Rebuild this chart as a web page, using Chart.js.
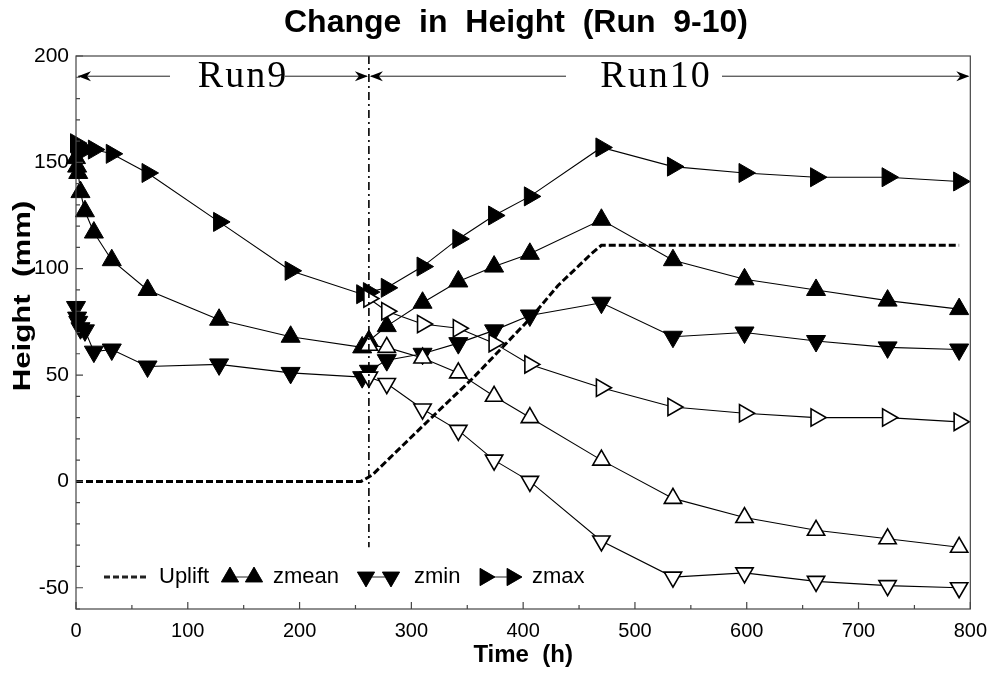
<!DOCTYPE html>
<html>
<head>
<meta charset="utf-8">
<script src="https://cdn.jsdelivr.net/npm/chart.js@4.4.1/dist/chart.umd.min.js"></script>
<style>
  html, body { margin: 0; padding: 0; background: #fff; }
  #wrap { width: 997px; height: 675px; }
</style>
</head>
<body>
<div id="wrap"><canvas id="heightChart" width="997" height="675"></canvas></div>
<script>
// time (h) of each measurement
const runSplit = 262;
const times9 = [0, 1, 2, 4, 8, 16, 32, 64, 128, 192, 256];
const times10 = [262, 278, 310, 342, 374, 406, 470, 534, 598, 662, 726, 790];

// heights (mm), filled symbols
const zmean9 = [152, 148, 145, 136, 127, 117, 104, 90, 76, 68, 63];
const zmean10 = [66, 73, 84, 94, 101, 107, 123, 104, 95, 90, 85, 81];
const zmin9 = [82, 77, 75, 72, 71, 61, 62, 54, 55, 51, 49];
const zmin10 = [52, 57, 60, 65, 71, 78, 84, 68, 70, 66, 63, 62];
const zmax9 = [159, 157, 157, 156, 156, 156, 154, 145, 122, 99, 88];
const zmax10 = [89, 91, 101, 114, 125, 134, 157, 148, 145, 143, 143, 141];

// open symbols (run 10 only)
const openMean10 = [64, 63, 58, 51, 40, 30, 10, -8, -17, -23, -27, -31];
const openMin10 = [49, 46, 34, 24, 10, 0, -28, -45, -43, -47, -49, -50];
const openMax10 = [86, 80, 74, 72, 65, 55, 44, 35, 32, 30, 30, 28];

// uplift curve
const upliftT = [0, 255, 265, 318, 354, 407, 431, 461, 470, 790];
const upliftH = [0, 0, 3, 30, 48, 77, 92, 107, 111, 111];

const xTicks = [0, 100, 200, 300, 400, 500, 600, 700, 800];
const yTicks = [-50, 0, 50, 100, 150, 200];

function pts(t, v) {
    return v.map((y, i) => ({ x: t[i], y: y }));
}

const allTimes = times9.concat(times10);

function series(label, values, style, rot, filled, t) {
    return {
        label: label,
        data: pts(t || allTimes, values),
        borderColor: "#000",
        borderWidth: 1.1,
        pointStyle: style,
        pointRotation: rot,
        pointRadius: filled ? 11 : 10,
        pointBorderWidth: filled ? 1 : 1.6,
        pointBackgroundColor: filled ? "#000" : "#fff",
        pointBorderColor: "#000",
        fill: false,
        clip: false,
        tension: 0
    };
}

const font = "Arial, 'Liberation Sans', sans-serif";

const overlay = {
    id: "overlay",
    afterDraw(chart) {
        const ctx = chart.ctx;
        const a = chart.chartArea;
        const xs = chart.scales.x, ys = chart.scales.y;
        ctx.save();

        // frame
        ctx.strokeStyle = "#444";
        ctx.lineWidth = 1.2;
        ctx.strokeRect(a.left, a.top, a.right - a.left, a.bottom - a.top);

        // inward ticks
        ctx.beginPath();
        for (let v = 0; v <= 800; v += 50) {
            const px = xs.getPixelForValue(v);
            const len = v % 100 === 0 ? 7 : 4;
            ctx.moveTo(px, a.bottom); ctx.lineTo(px, a.bottom - len);
        }
        for (let v = -60; v <= 200; v += 10) {
            const py = ys.getPixelForValue(v);
            const len = v % 50 === 0 ? 7 : 4;
            ctx.moveTo(a.left, py); ctx.lineTo(a.left + len, py);
        }
        ctx.stroke();

        // title
        ctx.fillStyle = "#000";
        ctx.textAlign = "center";
        ctx.textBaseline = "middle";
        ctx.font = "bold 32px " + font;
        ctx.fillText("Change  in  Height  (Run  9-10)", 516, 23);

        // y axis title (stretched like the original)
        ctx.save();
        ctx.translate(23, 296);
        ctx.rotate(-Math.PI / 2);
        ctx.scale(1.3, 1);
        ctx.font = "bold 24px " + font;
        ctx.fillText("Height  (mm)", 0, 0);
        ctx.restore();

        // run arrows
        const ay = ys.getPixelForValue(190.5);
        const x0 = xs.getPixelForValue(0);
        const xm = xs.getPixelForValue(runSplit);
        const x1 = xs.getPixelForValue(800);
        ctx.lineWidth = 1;
        ctx.strokeStyle = "#222";
        function seg(p, q) {
            ctx.beginPath(); ctx.moveTo(p, ay); ctx.lineTo(q, ay); ctx.stroke();
        }
        function head(px, dir) {
            ctx.beginPath();
            ctx.moveTo(px, ay);
            ctx.lineTo(px - dir * 13, ay - 5);
            ctx.lineTo(px - dir * 9, ay);
            ctx.lineTo(px - dir * 13, ay + 5);
            ctx.closePath();
            ctx.fill();
        }
        seg(x0 + 2, 170); seg(285, xm - 2);
        seg(xm + 2, 566); seg(722, x1 - 2);
        head(x0 + 2, -1); head(xm - 1, 1);
        head(xm + 1, -1); head(x1 - 1, 1);
        ctx.font = "38px 'Liberation Serif', 'Times New Roman', serif";
        ctx.letterSpacing = "2px";
        ctx.fillText("Run9", 243, ay + 1);
        ctx.fillText("Run10", 656, ay + 1);
        ctx.letterSpacing = "0px";

        // legend
        const ly = 577;
        ctx.font = "22px " + font;
        ctx.textAlign = "left";
        ctx.lineWidth = 3;
        ctx.setLineDash([6, 3]);
        ctx.beginPath(); ctx.moveTo(104, ly); ctx.lineTo(148, ly); ctx.stroke();
        ctx.setLineDash([]);
        ctx.fillText("Uplift", 159, ly);
        const items = [
            { x: 230, gap: 24, rot: 0, text: "zmean", tx: 273 },
            { x: 366, gap: 25, rot: 180, text: "zmin", tx: 414 },
            { x: 485, gap: 27, rot: 90, text: "zmax", tx: 532 }
        ];
        items.forEach(it => {
            ctx.lineWidth = 1;
            ctx.beginPath(); ctx.moveTo(it.x, ly); ctx.lineTo(it.x + it.gap, ly); ctx.stroke();
            ctx.fillStyle = "#000";
            const o = { pointStyle: "triangle", rotation: it.rot, radius: 10, borderWidth: 1 };
            Chart.helpers.drawPoint(ctx, o, it.x, ly);
            ctx.fill();
            Chart.helpers.drawPoint(ctx, o, it.x + it.gap, ly);
            ctx.fill();
            ctx.fillText(it.text, it.tx, ly);
        });
        ctx.restore();
    }
};

new Chart(document.getElementById("heightChart"), {
    type: "line",
    data: {
        datasets: [
            {
                label: "Uplift",
                data: pts(upliftT, upliftH),
                borderColor: "#000",
                borderWidth: 3,
                borderDash: [7, 3],
                pointRadius: 0,
                fill: false
            },
            {
                label: "split",
                data: [{ x: runSplit, y: 200 }, { x: runSplit, y: -31 }],
                borderColor: "#000",
                borderWidth: 1.6,
                borderDash: [8, 4, 2, 4],
                pointRadius: 0,
                fill: false
            },
            series("open max", openMax10, "triangle", 90, false, times10),
            series("open mean", openMean10, "triangle", 0, false, times10),
            series("open min", openMin10, "triangle", 180, false, times10),
            series("zmin", zmin9.concat(zmin10), "triangle", 180, true),
            series("zmean", zmean9.concat(zmean10), "triangle", 0, true),
            series("zmax", zmax9.concat(zmax10), "triangle", 90, true)
        ]
    },
    options: {
        responsive: false,
        animation: false,
        layout: { padding: { top: 56, right: 21, left: 0, bottom: 0 } },
        plugins: {
            legend: { display: false },
            title: { display: false },
            tooltip: { enabled: false }
        },
        scales: {
            x: {
                type: "linear",
                min: 0,
                max: 800,
                afterBuildTicks: s => { s.ticks = xTicks.map(v => ({ value: v })); },
                afterFit: s => { s.height = 66; },
                grid: { display: false, drawTicks: false },
                border: { display: false },
                ticks: { color: "#000", font: { size: 20, family: font }, padding: 10 },
                title: {
                    display: true,
                    text: "Time  (h)",
                    color: "#000",
                    font: { size: 24, weight: "bold", family: font },
                    padding: { top: 0, bottom: 5 }
                }
            },
            y: {
                min: -60,
                max: 200,
                afterBuildTicks: s => { s.ticks = yTicks.map(v => ({ value: v })); },
                afterFit: s => { s.width = 76; },
                grid: { display: false, drawTicks: false },
                border: { display: false },
                ticks: { color: "#000", font: { size: 21, family: font }, padding: 7 },
                title: { display: false }
            }
        }
    },
    plugins: [overlay]
});
</script>
</body>
</html>
